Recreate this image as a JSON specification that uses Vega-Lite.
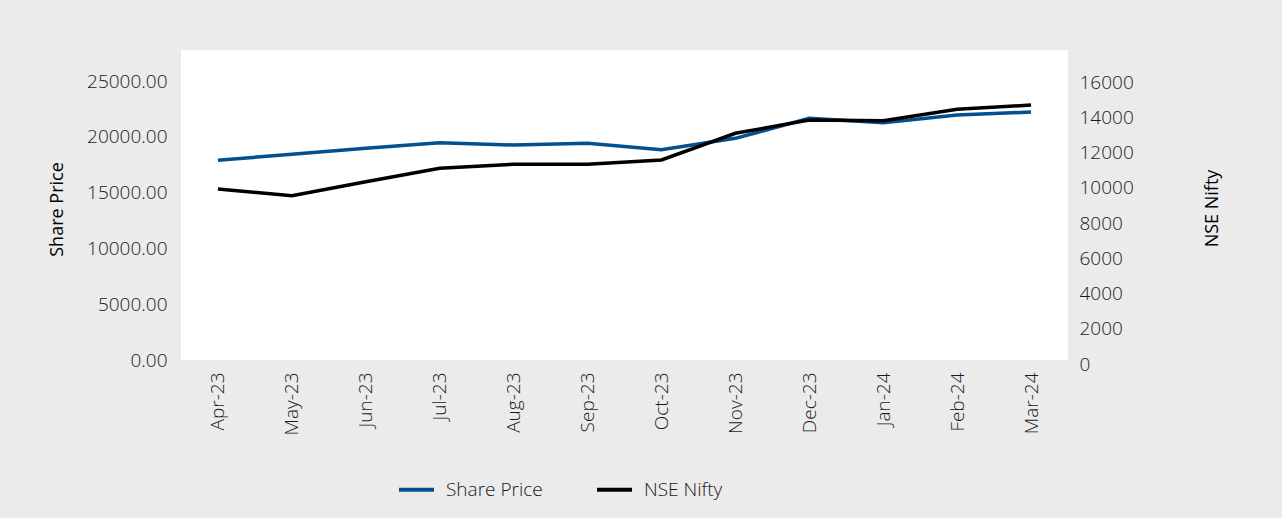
{
  "$schema": "https://vega.github.io/schema/vega-lite/v6.json",
  "width": 887,
  "height": 310,
  "autosize": {"type": "none"},
  "padding": {"left": 181, "top": 50, "right": 214, "bottom": 158},
  "background": "#ebebeb",
  "config": {
    "view": {"fill": "white", "stroke": null},
    "font": "Open Sans",
    "axis": {"labelFont": "Open Sans", "titleFont": "Open Sans", "labelFontSize": 19, "labelFontWeight": 300, "titleFontSize": 18, "labelColor": "#1a1a1a", "titleColor": "#000000", "titleFontWeight": "normal", "grid": false, "domain": false, "ticks": false},
    "legend": {"labelFont": "Open Sans", "labelFontSize": 19, "labelFontWeight": 300, "labelColor": "#1a1a1a"}
  },
  "data": {"values": [
    {"month": "Apr-23", "share": 17900, "nifty": 9702},
    {"month": "May-23", "share": 18430, "nifty": 9323},
    {"month": "Jun-23", "share": 18968, "nifty": 10116},
    {"month": "Jul-23", "share": 19470, "nifty": 10876},
    {"month": "Aug-23", "share": 19264, "nifty": 11104},
    {"month": "Sep-23", "share": 19416, "nifty": 11104},
    {"month": "Oct-23", "share": 18850, "nifty": 11348},
    {"month": "Nov-23", "share": 19864, "nifty": 12862},
    {"month": "Dec-23", "share": 21656, "nifty": 13617},
    {"month": "Jan-24", "share": 21262, "nifty": 13578},
    {"month": "Feb-24", "share": 21952, "nifty": 14224},
    {"month": "Mar-24", "share": 22221, "nifty": 14468}
  ]},
  "encoding": {
    "x": {"field": "month", "type": "ordinal", "sort": null, "scale": {"type": "point", "padding": 0.5},
      "axis": {"title": null, "labelAngle": -90, "labelPadding": 12}}
  },
  "layer": [
    {
      "mark": {"type": "line", "strokeWidth": 3.5},
      "encoding": {
        "y": {"field": "share", "type": "quantitative", "scale": {"domain": [0, 27778], "nice": false, "zero": true},
          "axis": {"title": "Share Price", "format": ".2f", "values": [0, 5000, 10000, 15000, 20000, 25000], "labelPadding": 14, "titleAngle": -90, "titleX": -124, "titleY": 159, "titleAlign": "center", "titleBaseline": "middle"}},
        "color": {"datum": "Share Price", "type": "nominal",
          "scale": {"domain": ["Share Price", "NSE Nifty"], "range": ["#02508f", "#000000"]},
          "legend": {"title": null, "orient": "none", "direction": "horizontal", "legendX": 216, "legendY": 420, "symbolType": "stroke", "symbolSize": 1225, "symbolStrokeWidth": 4, "labelOffset": 10, "columnPadding": 46}}
      }
    },
    {
      "mark": {"type": "line", "strokeWidth": 3.5},
      "encoding": {
        "y": {"field": "nifty", "type": "quantitative", "scale": {"domain": [0, 17589], "nice": false, "zero": true},
          "axis": {"orient": "right", "title": "NSE Nifty", "format": "d", "values": [0, 2000, 4000, 6000, 8000, 10000, 12000, 14000, 16000], "labelPadding": 11, "labelOffset": 4, "titleAngle": -90, "titleX": 144, "titleY": 158, "titleAlign": "center", "titleBaseline": "middle"}},
        "color": {"datum": "NSE Nifty", "type": "nominal"}
      }
    }
  ],
  "resolve": {"scale": {"y": "independent"}}
}
